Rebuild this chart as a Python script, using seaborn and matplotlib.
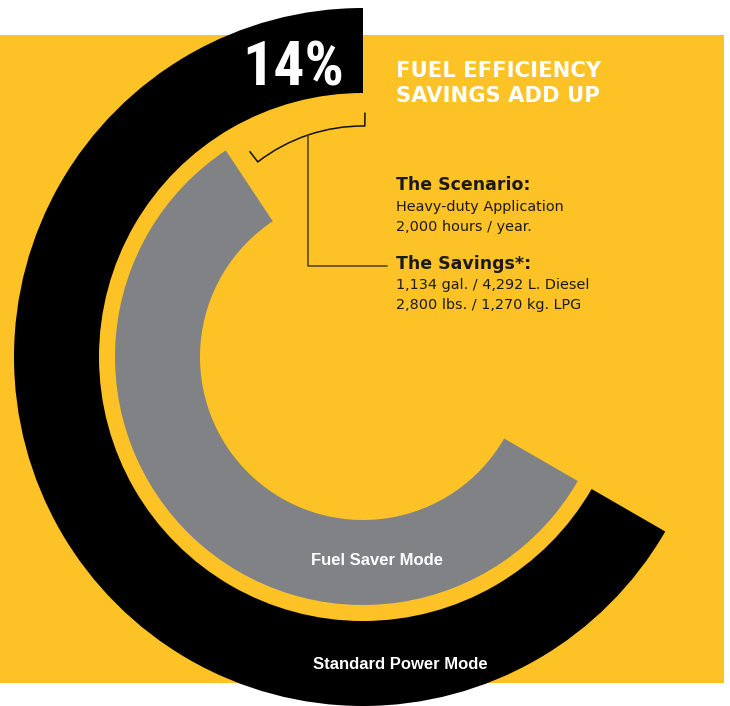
import numpy as np
import matplotlib
matplotlib.use("Agg")
import matplotlib.pyplot as plt
import seaborn as sns
from matplotlib import font_manager as fm
from matplotlib.patches import Rectangle, Arc

# ---- data ----
modes = ["Standard Power Mode", "Fuel Saver Mode"]
mode_values = [100, 86]          # relative fuel use (%)
savings_pct = 14
headline = "14%"
title_lines = ["FUEL EFFICIENCY", "SAVINGS ADD UP"]
scenario_head = "The Scenario:"
scenario_lines = ["Heavy-duty Application", "2,000 hours / year."]
savings_head = "The Savings*:"
savings_lines = ["1,134 gal. / 4,292 L. Diesel", "2,800 lbs. / 1,270 kg. LPG"]

# ---- style ----
YELLOW = "#FDC326"
GREY = "#808285"
BLACK = "#000000"
INK = "#1c1a17"

sns.set_theme(style="white")
plt.rcParams["font.family"] = ["DejaVu Sans"]

names = {f.name for f in fm.fontManager.ttflist}
narrow = None
for cand in ["Liberation Sans Narrow", "Roboto Condensed", "DejaVu Sans Condensed", "Roboto"]:
    if cand in names:
        narrow = cand
        break
helv = "Liberation Sans" if "Liberation Sans" in names else "DejaVu Sans"

W, H = 730, 706
fig = plt.figure(figsize=(W / 100, H / 100), dpi=100)
ax = fig.add_axes([0, 0, 1, 1])

def Y(y):
    return H - y

# background panel
ax.add_patch(Rectangle((0, Y(683)), 724, 683 - 35, facecolor=YELLOW, edgecolor="none", zorder=0))

cx, cy = 363, Y(357)
ARC_SPAN = 240.0  # degrees representing 100 %
full = mode_values[0]
blank = full * (360 - ARC_SPAN) / ARC_SPAN

# outer ring: standard power mode
ax.pie([mode_values[0], blank], radius=349, center=(cx, cy), startangle=90,
       counterclock=True, colors=[BLACK, "none"],
       wedgeprops=dict(width=349 - 264, edgecolor="none", zorder=2))
# inner ring: fuel saver mode
ax.pie([full - mode_values[1], mode_values[1], blank], radius=248, center=(cx, cy),
       startangle=90, counterclock=True, colors=["none", GREY, "none"],
       wedgeprops=dict(width=248 - 163, edgecolor="none", zorder=2))

ax.set_xlim(0, W)
ax.set_ylim(0, H)
ax.set_aspect("auto")
ax.axis("off")

# bracket over the savings gap
bx, by, br = 363, Y(298), 172
a1, a2 = 89.4, 127.7
ax.add_patch(Arc((bx, by), 2 * br, 2 * br, theta1=a1, theta2=a2, color="#111111", lw=1.1, zorder=3))
for a in (a1, a2):
    t = np.deg2rad(a)
    ax.plot([bx + br * np.cos(t), bx + (br + 13) * np.cos(t)],
            [by + br * np.sin(t), by + (br + 13) * np.sin(t)], color="#111111", lw=1.1, zorder=3)
lx = 308
ly_top = by + np.sqrt(br ** 2 - (lx - bx) ** 2)
ax.plot([lx, lx, 387], [ly_top, Y(266), Y(266)], color="#5a4813", lw=1.2, zorder=3)

# texts
ax.text(242, Y(85), headline, color="white", fontsize=44.5, fontweight="bold",
        family=[narrow, "DejaVu Sans"], va="baseline", ha="left", zorder=4)
ax.text(396, Y(77), title_lines[0], color="white", fontsize=15.2, fontweight="bold",
        va="baseline", ha="left", zorder=4)
ax.text(396, Y(102), title_lines[1], color="white", fontsize=15.2, fontweight="bold",
        va="baseline", ha="left", zorder=4)

ax.text(396, Y(190), scenario_head, color=INK, fontsize=12.5, fontweight="bold", va="baseline")
ax.text(396, Y(211), scenario_lines[0], color=INK, fontsize=10.4, va="baseline")
ax.text(396, Y(231), scenario_lines[1], color=INK, fontsize=10.4, va="baseline")
ax.text(396, Y(269), savings_head, color=INK, fontsize=12.5, fontweight="bold", va="baseline")
ax.text(396, Y(289), savings_lines[0], color=INK, fontsize=10.4, va="baseline")
ax.text(396, Y(309), savings_lines[1], color=INK, fontsize=10.4, va="baseline")

ax.text(377, Y(565), modes[1], color="white", fontsize=12, fontweight="bold",
        family=[helv, "DejaVu Sans"], ha="center", va="baseline", zorder=4)
ax.text(400, Y(669), modes[0], color="white", fontsize=12, fontweight="bold",
        family=[helv, "DejaVu Sans"], ha="center", va="baseline", zorder=4)

fig.savefig("out.png", dpi=100, facecolor="white")
